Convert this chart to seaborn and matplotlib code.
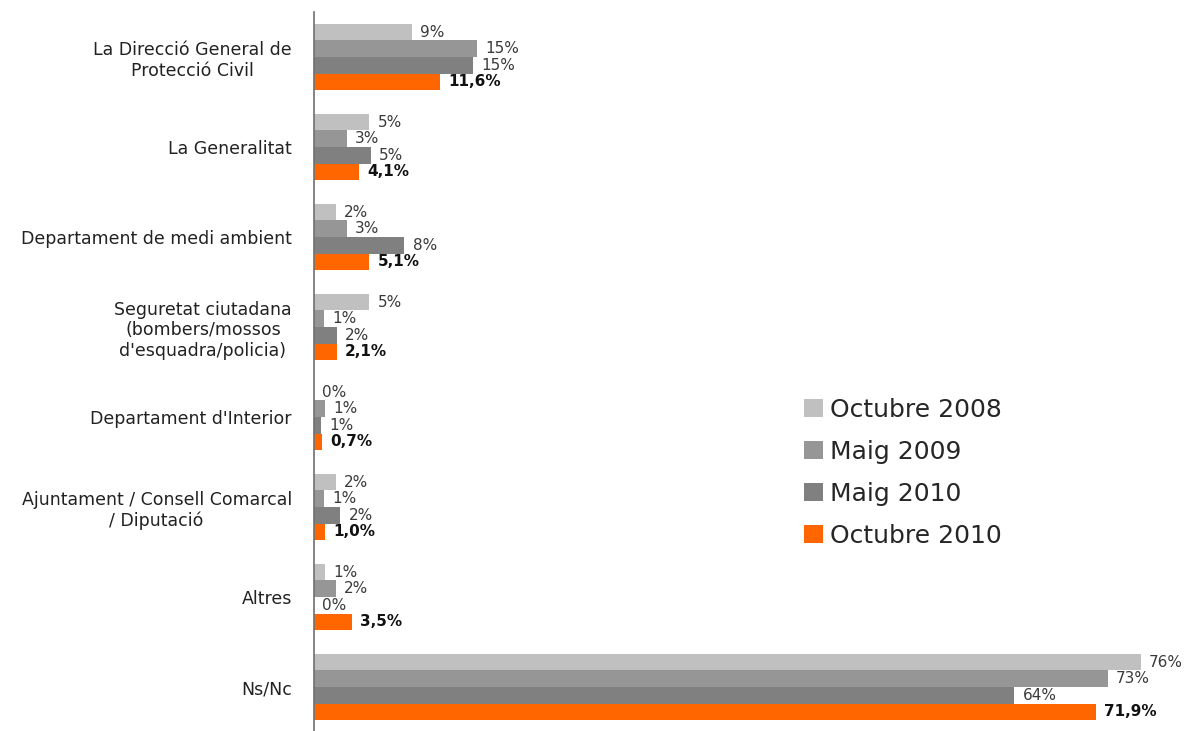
import matplotlib
matplotlib.use("Agg")
import matplotlib.pyplot as plt
import numpy as np
import pandas as pd
import seaborn as sns

categories = [
    "La Direcció General de\nProtecció Civil",
    "La Generalitat",
    "Departament de medi ambient",
    "Seguretat ciutadana\n(bombers/mossos\nd'esquadra/policia)",
    "Departament d'Interior",
    "Ajuntament / Consell Comarcal\n/ Diputació",
    "Altres",
    "Ns/Nc",
]
series = ["Octubre 2008", "Maig 2009", "Maig 2010", "Octubre 2010"]
colors = ["#C0C0C0", "#969696", "#808080", "#FF6600"]

oct_2008 = [9.0, 5.1, 2.0, 5.1, 0.0, 2.0, 1.0, 76.0]
maig_2009 = [15.0, 3.0, 3.0, 0.9, 1.0, 0.9, 2.0, 73.0]
maig_2010 = [14.6, 5.2, 8.3, 2.1, 0.6, 2.4, 0.0, 64.4]
oct_2010 = [11.6, 4.1, 5.1, 2.1, 0.7, 1.0, 3.5, 71.9]

values = [oct_2008, maig_2009, maig_2010, oct_2010]

rows = []
for s, vals in zip(series, values):
    for c, v in zip(categories, vals):
        rows.append({"cat": c, "serie": s, "value": v})
data = pd.DataFrame(rows)

sns.set_style("white")
plt.rcParams["font.family"] = ["DejaVu Sans"]

fig = plt.figure(figsize=(11.91, 7.31), dpi=100)
ax = fig.add_axes([314 / 1191, -1 / 731, 870 / 1191, 720 / 731])

sns.barplot(data=data, y="cat", x="value", hue="serie", hue_order=series,
            order=categories, palette=colors, orient="h", width=0.74,
            errorbar=None, saturation=1, linewidth=0, ax=ax)

ax.set_xlim(0, 80)
ax.set_ylim(len(categories) - 0.5, -0.5)
ax.set(xlabel="", ylabel="")
ax.xaxis.set_visible(False)
for side in ("top", "right", "bottom"):
    ax.spines[side].set_visible(False)
ax.spines["left"].set_color("#707070")
ax.spines["left"].set_linewidth(1.2)
ax.spines["left"].set_zorder(5)

ax.tick_params(axis="y", which="major", length=0, pad=16, labelsize=12.5,
               labelcolor="#222222")
for lab in ax.get_yticklabels():
    lab.set_multialignment("center")
ax.set_yticks(np.arange(-0.5, len(categories)), minor=True)
ax.tick_params(axis="y", which="minor", length=5, width=1.2, color="#707070",
               direction="out")

for i, container in enumerate(ax.containers):
    vals = values[i]
    if i == 3:
        labels = [f"{v:.1f}%".replace(".", ",") for v in vals]
        ax.bar_label(container, labels=labels, padding=6, fontsize=11,
                     fontweight="bold", color="#111111")
    else:
        labels = [f"{int(v + 0.5)}%" for v in vals]
        ax.bar_label(container, labels=labels, padding=6, fontsize=11,
                     color="#3a3a3a")

leg = ax.legend(loc="upper left", bbox_to_anchor=(0.552, 0.478), frameon=False,
                fontsize=18, handlelength=0.75, handleheight=0.75,
                handletextpad=0.3, labelspacing=0.72, borderaxespad=0)

fig.savefig("out.png", dpi=100)
